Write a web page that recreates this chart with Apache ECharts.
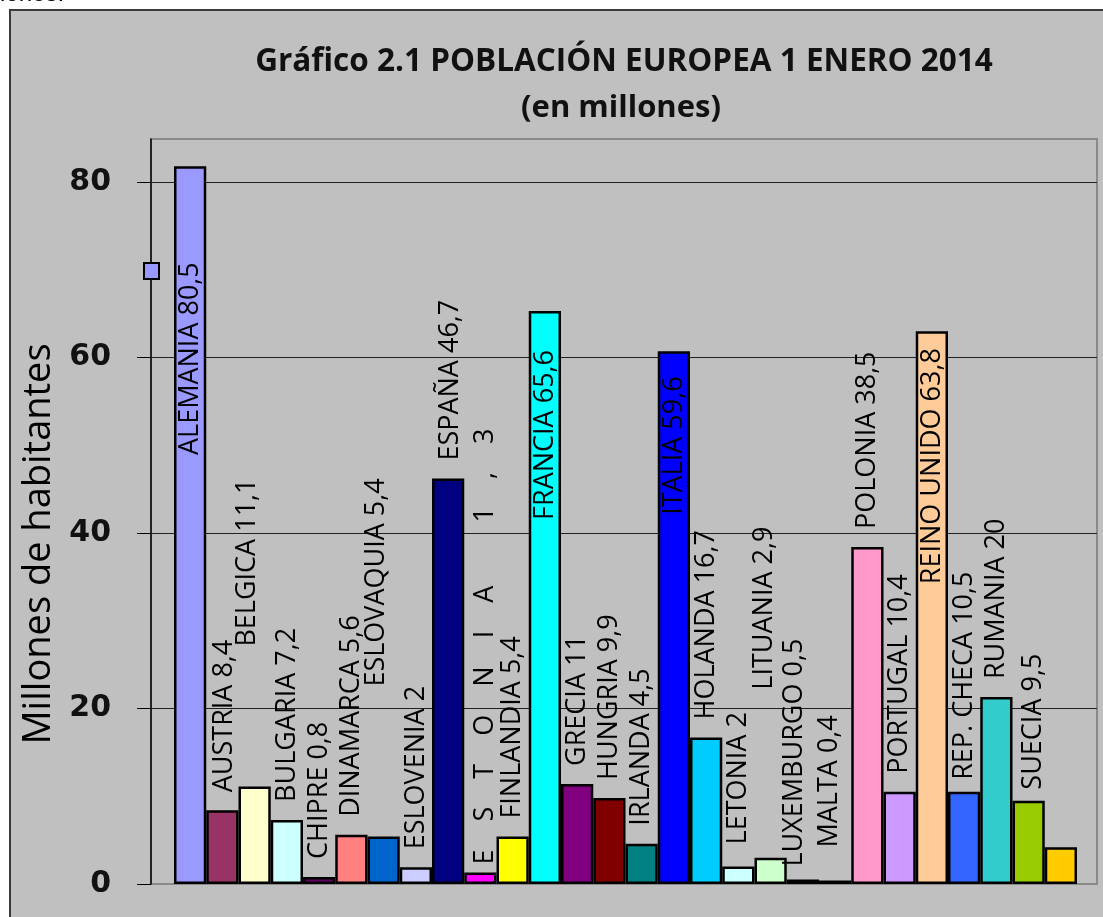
<!DOCTYPE html>
<html>
<head>
<meta charset="utf-8">
<script src="https://cdn.jsdelivr.net/npm/echarts@6/dist/echarts.min.js"></script>
<style>
  html, body { margin: 0; padding: 0; background: #fff; }
  #chart { width: 1103px; height: 917px; }
</style>
</head>
<body>
<div id="chart"></div>
<script>
// paises (orden del grafico) y su rotulo
var paises = ["ALEMANIA", "AUSTRIA", "BELGICA", "BULGARIA", "CHIPRE", "DINAMARCA", "ESLOVAQUIA",
  "ESLOVENIA", "ESPAÑA", "ESTONIA", "FINLANDIA", "FRANCIA", "GRECIA", "HUNGRIA", "IRLANDA",
  "ITALIA", "HOLANDA", "LETONIA", "LITUANIA", "LUXEMBURGO", "MALTA", "POLONIA", "PORTUGAL",
  "REINO UNIDO", "REP. CHECA", "RUMANIA", "SUECIA", "CROACIA"]
var rotulos = ["ALEMANIA 80,5", "AUSTRIA 8,4", "BELGICA 11,1", "BULGARIA 7,2", "CHIPRE 0,8",
  "DINAMARCA 5,6", "ESLOVAQUIA 5,4", "ESLOVENIA 2", "ESPAÑA 46,7",
  "E    S    T    O    N    I    A         1    ,    3", "FINLANDIA 5,4", "FRANCIA 65,6",
  "GRECIA 11", "HUNGRIA 9,9", "IRLANDA 4,5", "ITALIA 59,6", "HOLANDA 16,7", "LETONIA 2",
  "LITUANIA 2,9", "LUXEMBURGO 0,5", "MALTA 0,4", "POLONIA 38,5", "PORTUGAL 10,4",
  "REINO UNIDO 63,8", "REP. CHECA 10,5", "RUMANIA 20", "SUECIA 9,5", ""]
// altura de las barras (millones)
var poblacion = [81.8, 8.4, 11.1, 7.3, 0.8, 5.6, 5.4, 1.9, 46.2, 1.3, 5.4, 65.3, 11.4, 9.8, 4.6,
  60.7, 16.7, 2.0, 3.0, 0.5, 0.4, 38.4, 10.5, 63.0, 10.5, 21.3, 9.5, 4.2]
var yTicks = [0, 20, 40, 60, 80]

var colores = ["#9999FF", "#993366", "#FFFFCC", "#CCFFFF", "#660066", "#FF8080", "#0066CC",
  "#CCCCFF", "#000080", "#FF00FF", "#FFFF00", "#00FFFF", "#800080", "#800000", "#008080",
  "#0000FF", "#00CCFF", "#CCFFFF", "#CCFFCC", "#FFFF99", "#99CCFF", "#FF99CC", "#CC99FF",
  "#FFCC99", "#3366FF", "#33CCCC", "#99CC00", "#FFCC00"]

// colocacion de los rotulos (px): dentro de la barra o encima, separacion y desplazamiento lateral
var dentro = [1, 0, 0, 0, 0, 0, 0, 0, 0, 0, 0, 1, 0, 0, 0, 1, 0, 0, 0, 0, 0, 0, 0, 1, 0, 0, 0, 0]
var separacion = [96, 18, 140, 18, 18, 18, 150, 18, 18, 8, 18, 39, 18, 18, 18, 25, 18, 22, 168,
  13, 33, 18, 18, 17, 12, 18, 11, 18]
var lateral = [0, 2, -7, 0, 0, 0, -7, 0, 2, 5, 0, 0, 0, 0, 0, 0, 0, 0, -6, -9, -6, 0, 0, 0, 0, 0, 5, 0]

var datos = poblacion.map(function (v, i) {
  return {
    value: v,
    itemStyle: { color: colores[i] },
    label: {
      position: dentro[i] ? "insideTop" : "top",
      align: dentro[i] ? "right" : "left",
      distance: separacion[i],
      offset: [0, lateral[i]]
    }
  }
})

var chartDom = echarts.init(document.getElementById("chart"))

var option = {
  backgroundColor: "#ffffff",
  animation: false,
  graphic: [
    {
      type: "rect", z: -10, silent: true,
      shape: { x: 10, y: 10, width: 1110, height: 920 },
      style: { fill: "#C0C0C0", stroke: "#3a3a3a", lineWidth: 2 }
    },
    {
      type: "text", x: 0, y: 6,
      style: { text: "iones.", font: "24px 'Liberation Sans'", fill: "#000", verticalAlign: "bottom" }
    },
    {
      type: "text", x: 624, y: 62,
      style: {
        text: "Gráfico 2.1 POBLACIÓN EUROPEA 1 ENERO 2014", font: "bold 31.5px 'Open Sans'",
        fill: "#111", align: "center", verticalAlign: "middle"
      }
    },
    {
      type: "text", x: 621, y: 108,
      style: {
        text: "(en millones)", font: "bold 31px 'Open Sans'",
        fill: "#111", align: "center", verticalAlign: "middle"
      }
    },
    {
      type: "rect", z: 50,
      shape: { x: 144, y: 263, width: 15, height: 16 },
      style: { fill: "#9999FF", stroke: "#000", lineWidth: 2 }
    }
  ],
  grid: [
    // area de trazado (borde)
    { left: 151, top: 139, width: 946, height: 745, show: true, borderColor: "#8a8a8a", borderWidth: 2, outerBoundsMode: "none" },
    // escala visible
    { left: 151, top: 182, width: 946, height: 702, outerBoundsMode: "none" },
    // barras
    { left: 174, top: 182, width: 903, height: 702, outerBoundsMode: "none" }
  ],
  xAxis: [
    { gridIndex: 0, type: "value", show: false },
    { gridIndex: 1, type: "value", show: false },
    { gridIndex: 2, type: "category", data: paises, show: false }
  ],
  yAxis: [
    {
      gridIndex: 0, type: "value", min: 0, max: 85,
      axisLine: { show: true, lineStyle: { color: "#000", width: 1.5 } },
      axisTick: { show: false }, axisLabel: { show: false }, splitLine: { show: false }
    },
    {
      gridIndex: 1, type: "value", min: yTicks[0], max: yTicks[yTicks.length - 1], interval: 20,
      name: "Millones de habitantes", nameLocation: "middle", nameGap: 62,
      nameTextStyle: { fontFamily: "Open Sans", fontSize: 38, color: "#000", padding: [0, 22, 0, 0] },
      axisLine: { show: false },
      axisTick: { show: true, inside: false, length: 14, lineStyle: { color: "#000", width: 1 } },
      axisLabel: { margin: 40, fontFamily: "DejaVu Sans", fontWeight: "bold", fontSize: 30, color: "#111" },
      splitLine: { show: true, showMinLine: false, lineStyle: { color: "#222", width: 1 } }
    },
    { gridIndex: 2, type: "value", min: 0, max: 80, show: false }
  ],
  series: [
    {
      type: "bar",
      xAxisIndex: 2,
      yAxisIndex: 2,
      clip: false,
      barCategoryGap: 0,
      itemStyle: { borderColor: "#000", borderWidth: 2.5 },
      label: {
        show: true,
        rotate: 90,
        verticalAlign: "middle",
        fontFamily: "Open Sans",
        fontSize: 27,
        color: "#000",
        formatter: function (p) { return rotulos[p.dataIndex] }
      },
      data: datos
    }
  ]
}

chartDom.setOption(option)
</script>
</body>
</html>
